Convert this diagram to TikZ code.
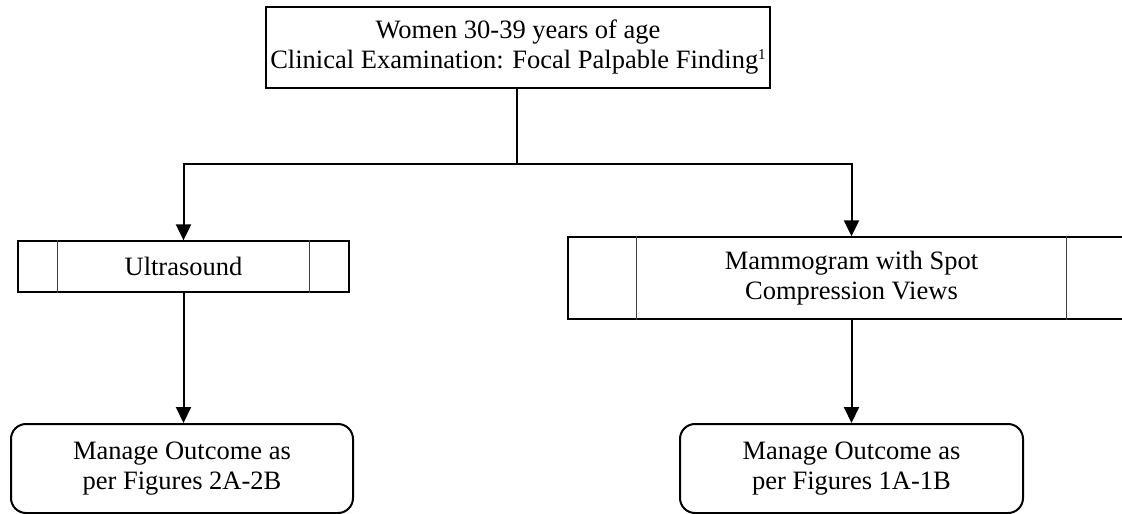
\documentclass[tikz,border=0pt]{standalone}
\usepackage{fontspec}
\setmainfont{Liberation Serif}
\usetikzlibrary{arrows.meta}
\begin{document}
\begin{tikzpicture}[x=1pt,y=-1pt,
  every node/.style={font=\fontsize{26.5}{30}\selectfont, inner sep=0pt, align=center},
  plainbox/.style={draw, line width=1.3pt},
  procbox/.style={draw, line width=1.3pt},
  divider/.style={draw=black!75, line width=1.3pt},
  outbox/.style={draw, line width=2pt, rounded corners=15pt},
  conn/.style={line width=2pt},
  arr/.style={conn, -{Triangle[width=15pt,length=16pt]}}
]
\useasboundingbox (0,0) rectangle (1122,514);
\node[plainbox, minimum width=504pt, minimum height=81pt] (top) at (518,47.5)
  {Women 30-39 years of age\\Clinical Examination: Focal Palpable Finding\raisebox{9pt}{\fontsize{15}{15}\selectfont 1}};
\node[procbox, minimum width=331pt, minimum height=51pt] (us) at (183.5,266.5) {Ultrasound};
\node[procbox, minimum width=567pt, minimum height=82pt] (mam) at (851.5,278)
  {Mammogram with Spot\\Compression Views};
\node[outbox, minimum width=342pt, minimum height=89pt] (out1) at (182,468.5)
  {Manage Outcome as\\per Figures 2A-2B};
\node[outbox, minimum width=343pt, minimum height=89pt] (out2) at (851.5,468.5)
  {Manage Outcome as\\per Figures 1A-1B};
% dividers of process boxes
\draw[divider] ([xshift=40pt]us.north west) -- ([xshift=40pt]us.south west);
\draw[divider] ([xshift=-40pt]us.north east) -- ([xshift=-40pt]us.south east);
\draw[divider] ([xshift=69pt]mam.north west) -- ([xshift=69pt]mam.south west);
\draw[divider] ([xshift=-69pt]mam.north east) -- ([xshift=-69pt]mam.south east);
% connectors
\coordinate (split) at (517,164);
\draw[conn] (top.south -| split) -- (split);
\draw[arr] (split) -| (us.north);
\draw[arr] (split) -| (mam.north);
\draw[arr] (us.south) -- (us.south |- out1.north);
\draw[arr] (mam.south) -- (mam.south |- out2.north);
\end{tikzpicture}
\end{document}
